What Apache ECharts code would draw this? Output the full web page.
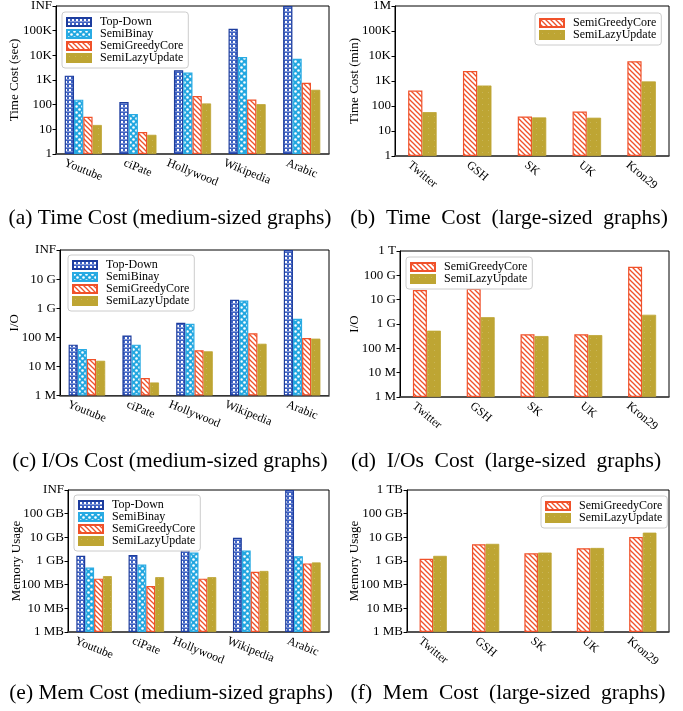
<!DOCTYPE html>
<html>
<head>
<meta charset="utf-8">
<script src="https://cdn.jsdelivr.net/npm/echarts@6/dist/echarts.min.js"></script>
<style>html,body{margin:0;padding:0;background:#fff}#c{width:683px;height:711px}</style>
</head>
<body>
<div id="c"></div>
<script>
// ---------------- data ----------------
const mediumGraphs = ['Youtube', 'ciPate', 'Hollywood', 'Wikipedia', 'Arabic'];
const largeGraphs = ['Twitter', 'GSH', 'SK', 'UK', 'Kron29'];

// (a) time, seconds (1e6 = INF)
const timeMedTopDown = [1500, 127, 2500, 120000, 1000000];
const timeMedSemiBinay = [160, 42, 2000, 8500, 7200];
const timeMedSemiGreedyCore = [32, 7.8, 224, 162, 770];
const timeMedSemiLazyUpdate = [15, 6, 112, 105, 400];
// (b) time, minutes
const timeLargeSemiGreedyCore = [415, 2500, 38, 60, 6200];
const timeLargeSemiLazyUpdate = [57, 660, 35, 34, 960];
// (c) I/O, in M (1e5 = INF)
const ioMedTopDown = [56, 115, 315, 1960, 100000];
const ioMedSemiBinay = [40, 56, 290, 1850, 435];
const ioMedSemiGreedyCore = [18, 4, 36, 138, 95];
const ioMedSemiLazyUpdate = [15.6, 2.8, 33, 60, 90];
// (d) I/O, in M
const ioLargeSemiGreedyCore = [25000, 28000, 380, 380, 225000];
const ioLargeSemiLazyUpdate = [530, 1900, 320, 350, 2400];
// (e) memory, MB (1e6 = INF)
const memMedTopDown = [1660, 1780, 2900, 9600, 1000000];
const memMedSemiBinay = [530, 710, 2300, 2800, 1600];
const memMedSemiGreedyCore = [180, 87, 180, 350, 790];
const memMedSemiLazyUpdate = [230, 208, 208, 380, 870];
// (f) memory, MB
const memLargeSemiGreedyCore = [1230, 5100, 2140, 3450, 10400];
const memLargeSemiLazyUpdate = [1650, 5300, 2270, 3560, 15800];

// tick labels (per decade from 10^0)
const timeMedTicks = ['1', '10', '100', '1K', '10K', '100K', 'INF'];
const timeLargeTicks = ['1', '10', '100', '1K', '10K', '100K', '1M'];
const ioMedTicks = ['1 M', '10 M', '100 M', '1 G', '10 G', 'INF'];
const ioLargeTicks = ['1 M', '10 M', '100 M', '1 G', '10 G', '100 G', '1 T'];
const memMedTicks = ['1 MB', '10 MB', '100 MB', '1 GB', '10 GB', '100 GB', 'INF'];
const memLargeTicks = ['1 MB', '10 MB', '100 MB', '1 GB', '10 GB', '100 GB', '1 TB'];

const yNames = ['Time Cost (sec)', 'Time Cost (min)', 'I/O', 'I/O', 'Memory Usage', 'Memory Usage'];
const captions = ['(a) Time Cost (medium-sized graphs)', '(b) Time Cost (large-sized graphs)',
  '(c) I/Os Cost (medium-sized graphs)', '(d) I/Os Cost (large-sized graphs)',
  '(e) Mem Cost (medium-sized graphs)', '(f) Mem Cost (large-sized graphs)'];
const seriesNames = ['Top-Down', 'SemiBinay', 'SemiGreedyCore', 'SemiLazyUpdate'];

// ---------------- styling ----------------
const FONT = '"Liberation Serif", "Times New Roman", serif';

function tile(w, h, draw) {
  const cv = document.createElement('canvas');
  cv.width = w; cv.height = h;
  const ctx = cv.getContext('2d');
  draw(ctx);
  return { image: cv, repeat: 'repeat' };
}
const patTopDown = tile(4, 4, ctx => {
  ctx.fillStyle = '#3f62c2'; ctx.fillRect(0, 0, 4, 4);
  ctx.fillStyle = '#ffffff'; ctx.fillRect(1, 1, 2, 2);
  ctx.fillStyle = 'rgba(255,255,255,0.35)'; ctx.fillRect(0, 3, 4, 1);
});
const patSemiBinay = tile(6, 6, ctx => {
  ctx.fillStyle = '#22a7e0'; ctx.fillRect(0, 0, 6, 6);
  ctx.fillStyle = '#ffffff';
  ctx.beginPath(); ctx.arc(1.5, 1.5, 1.3, 0, Math.PI * 2); ctx.fill();
  ctx.beginPath(); ctx.arc(4.5, 4.5, 1.3, 0, Math.PI * 2); ctx.fill();
});
const patSemiGreedy = tile(5, 5, ctx => {
  ctx.fillStyle = '#ffffff'; ctx.fillRect(0, 0, 5, 5);
  ctx.strokeStyle = '#f0512a'; ctx.lineWidth = 1.3;
  for (const o of [-5, 0, 5]) {
    ctx.beginPath(); ctx.moveTo(o - 1, -1); ctx.lineTo(o + 6, 6); ctx.stroke();
  }
});
const patSemiLazy = tile(6, 6, ctx => {
  ctx.fillStyle = '#bea533'; ctx.fillRect(0, 0, 6, 6);
  ctx.fillStyle = 'rgba(255,255,255,0.18)'; ctx.fillRect(2, 2, 1, 1);
});
const styles = {
  'Top-Down': { color: patTopDown, borderColor: '#1d3d9e', borderWidth: 1.2 },
  'SemiBinay': { color: patSemiBinay, borderColor: '#2aabe3', borderWidth: 1.2 },
  'SemiGreedyCore': { color: patSemiGreedy, borderColor: '#f0512a', borderWidth: 1.2 },
  'SemiLazyUpdate': { color: patSemiLazy, borderColor: '#bea533', borderWidth: 0.8 }
};

// layout of the six panels
const grids = [
  { left: 56, top: 6, width: 273, height: 148 },
  { left: 395, top: 6, width: 274, height: 150 },
  { left: 60, top: 250, width: 269, height: 145.5 },
  { left: 400, top: 251, width: 269, height: 146 },
  { left: 68, top: 490, width: 261, height: 142 },
  { left: 407, top: 490, width: 262, height: 142 }
];
const nameGaps = [34.5, 33.5, 38.5, 38.5, 45, 45.5];
const rotations = [-22, -40, -22, -40, -22, -40];
const legendPos = [
  { left: 62, top: 12 }, { left: 535, top: 13 },
  { left: 68, top: 255 }, { left: 406, top: 257 },
  { left: 74, top: 495 }, { left: 541, top: 496 }
];
const captionPos = [[170, 218], [509, 218], [170, 461], [506, 461], [171, 693], [508, 693]];

// rich styles: shift each rotated label so that it is centred under its tick
const LABEL_PX = 12;
function labelRich(names, deg) {
  const ctx = document.createElement('canvas').getContext('2d');
  ctx.font = LABEL_PX + 'px ' + FONT;
  const t = Math.abs(deg) * Math.PI / 180, c = Math.cos(t), s = Math.sin(t);
  const rich = {};
  names.forEach((n, k) => {
    const w = ctx.measureText(n).width, h = LABEL_PX;
    const dx = -(w * c - h * s) / 2;
    rich['r' + k] = {
      fontSize: LABEL_PX, fontFamily: FONT, color: '#000',
      padding: [-dx * s, 0, 0, dx * c]
    };
  });
  return rich;
}

const panels = [
  { cats: mediumGraphs, ticks: timeMedTicks, max: 1e6, series: [timeMedTopDown, timeMedSemiBinay, timeMedSemiGreedyCore, timeMedSemiLazyUpdate], names: seriesNames },
  { cats: largeGraphs, ticks: timeLargeTicks, max: 1e6, series: [timeLargeSemiGreedyCore, timeLargeSemiLazyUpdate], names: seriesNames.slice(2) },
  { cats: mediumGraphs, ticks: ioMedTicks, max: 1e5, series: [ioMedTopDown, ioMedSemiBinay, ioMedSemiGreedyCore, ioMedSemiLazyUpdate], names: seriesNames },
  { cats: largeGraphs, ticks: ioLargeTicks, max: 1e6, series: [ioLargeSemiGreedyCore, ioLargeSemiLazyUpdate], names: seriesNames.slice(2) },
  { cats: mediumGraphs, ticks: memMedTicks, max: 1e6, series: [memMedTopDown, memMedSemiBinay, memMedSemiGreedyCore, memMedSemiLazyUpdate], names: seriesNames },
  { cats: largeGraphs, ticks: memLargeTicks, max: 1e6, series: [memLargeSemiGreedyCore, memLargeSemiLazyUpdate], names: seriesNames.slice(2) }
];

const option = {
  animation: false,
  backgroundColor: '#fff',
  textStyle: { fontFamily: FONT },
  grid: [], xAxis: [], yAxis: [], series: [], legend: [], graphic: []
};

panels.forEach((p, i) => {
  option.grid.push(Object.assign({ show: true, borderColor: '#000', borderWidth: 1, backgroundColor: 'transparent', containLabel: false, outerBoundsMode: 'none' }, grids[i]));
  const cats = p.cats;
  option.xAxis.push({
    type: 'category', gridIndex: i, data: cats,
    axisTick: { show: false },
    axisLine: { show: true, lineStyle: { color: '#444', width: 1.6 } },
    axisLabel: {
      interval: 0, rotate: rotations[i], align: 'left', verticalAlign: 'top', margin: 3,
      fontSize: LABEL_PX, fontFamily: FONT, color: '#000',
      formatter: (v => '{r' + cats.indexOf(v) + '|' + v + '}'),
      rich: labelRich(cats, rotations[i])
    },
    splitLine: { show: false }
  });
  option.yAxis.push({
    type: 'log', logBase: 10, gridIndex: i, min: 1, max: p.max,
    splitNumber: Math.round(Math.log10(p.max)),
    name: yNames[i], nameLocation: 'middle', nameGap: nameGaps[i], nameRotate: 90,
    nameMoveOverlap: false,
    nameTextStyle: { fontSize: 13, fontFamily: FONT, color: '#000' },
    axisLine: { show: true, lineStyle: { color: '#000', width: 1 } },
    axisTick: { show: true, inside: false, length: 3.5, lineStyle: { color: '#000' } },
    axisLabel: {
      fontSize: 13, fontFamily: FONT, color: '#000', margin: 4,
      formatter: (v => p.ticks[Math.round(Math.log10(v))])
    },
    splitLine: { show: false }
  });
  const many = p.series.length === 4;
  p.series.forEach((vals, k) => {
    const nm = p.names[k];
    option.series.push({
      type: 'bar', name: nm, xAxisIndex: i, yAxisIndex: i, data: vals,
      barWidth: many ? '17%' : '26%', barGap: '0%',
      itemStyle: styles[nm], emphasis: { disabled: true }
    });
  });
  option.legend.push(Object.assign({
    orient: 'vertical', data: p.names, icon: 'rect', itemWidth: 24, itemHeight: 8, itemGap: 0,
    padding: [4, 5, 4, 4], borderColor: '#ccc', borderWidth: 1, borderRadius: 3,
    backgroundColor: 'rgba(255,255,255,0.85)', selectedMode: false,
    textStyle: { fontSize: 12, fontFamily: FONT, color: '#000', lineHeight: 11, padding: [0, 0, 0, 4] }
  }, legendPos[i]));
  // right-hand captions are set with wider word spacing, as in the original
  const capText = (i % 2 === 1) ? captions[i].split(' ').join('\u2002') : captions[i];
  option.graphic.push({
    type: 'text', x: captionPos[i][0], y: captionPos[i][1],
    style: { text: capText, font: '21.5px ' + FONT, fill: '#000', align: 'center', verticalAlign: 'middle' }
  });
});

const chart = echarts.init(document.getElementById('c'), null, { renderer: 'canvas', width: 683, height: 711 });
chart.setOption(option);
</script>
</body>
</html>
